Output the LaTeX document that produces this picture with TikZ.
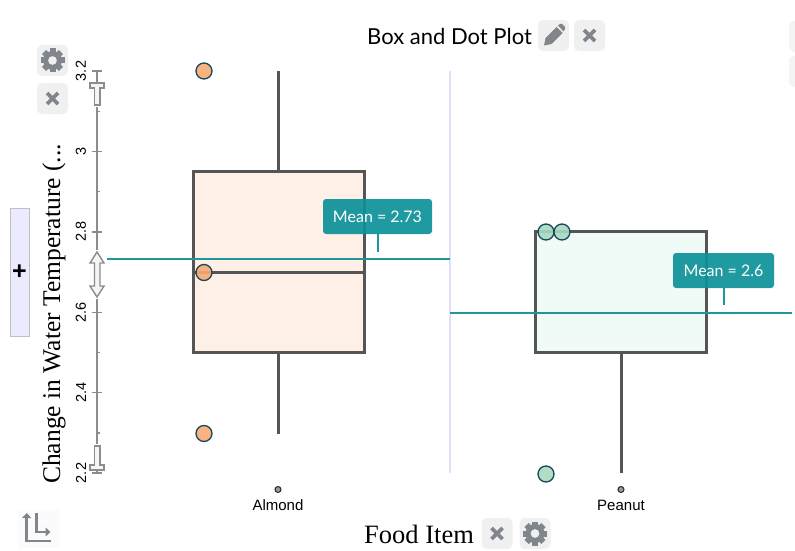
\documentclass[tikz,border=0pt]{standalone}
\usepackage{fontspec}
\setmainfont{Liberation Serif}
\newfontfamily\UiFont{Lato}
\newfontfamily\TickFont{Liberation Sans}
\usepackage{xcolor}
\definecolor{Col1}{RGB}{85,85,85}
\definecolor{Col2}{RGB}{30,150,156}
\definecolor{Col3}{RGB}{128,134,140}
\definecolor{Col4}{RGB}{240,240,240}
\definecolor{ColC}{RGB}{14,146,153}
\definecolor{ColA}{RGB}{254,240,230}
\definecolor{ColB}{RGB}{240,250,247}
\definecolor{DotA}{RGB}{249,170,115}
\definecolor{DotB}{RGB}{168,217,192}
\definecolor{DotEdge}{RGB}{22,72,92}
\usetikzlibrary{arrows.meta}
\tikzstyle{BoxNode}=[rectangle,draw=Col1,line width=3pt,inner sep=0pt]
\tikzstyle{Whisker}=[draw=Col1,line width=3pt]
\tikzstyle{Dot}=[circle,draw=DotEdge,line width=1.3pt,inner sep=0pt,minimum size=16pt,fill opacity=.9]
\tikzstyle{MeanLine}=[draw=Col2,line width=1.2pt]
\tikzstyle{Callout}=[rectangle,rounded corners=3pt,fill=ColC,fill opacity=.93,text opacity=1,
text=white,inner sep=0pt,font=\UiFont\fontsize{16}{16}\selectfont]
\tikzstyle{IconBtn}=[rectangle,rounded corners=5pt,fill=Col4,minimum size=31pt,inner sep=0pt]
\tikzstyle{Tick}=[draw=gray!90,line width=1.4pt]
\tikzstyle{Handle}=[draw=gray!90,fill=gray!8,line width=1.4pt]
\tikzstyle{CatDot}=[circle,draw=black!85,fill=gray!80,line width=1pt,inner sep=0pt,minimum size=6pt]
\tikzstyle{CatLabel}=[font=\TickFont\fontsize{15}{15}\selectfont]
\tikzstyle{TickLabel}=[rotate=90,font=\TickFont\fontsize{14.5}{15}\selectfont]
\newcommand{\IconCross}[1]{
    \draw[Col3,line width=3.8pt]
        ([shift={(-5.5,-5.5)}]#1.center)--([shift={(5.5,5.5)}]#1.center)
        ([shift={(-5.5,5.5)}]#1.center)--([shift={(5.5,-5.5)}]#1.center);
}
\newcommand{\IconGear}[1]{
    \foreach \a in {0,45,...,315}{
        \fill[Col3,rotate around={\a:(#1.center)}]
            ([shift={(-3,-12)}]#1.center) rectangle ([shift={(3,-7)}]#1.center);
    }
    \fill[Col3,even odd rule] (#1.center) circle[radius=9.5] (#1.center) circle[radius=4.5];
}
\begin{document}
\begin{tikzpicture}[x=1pt,y=-1pt]
    \useasboundingbox(0,0)rectangle(795,551);
    % plot
    \draw[draw=Col1!30!blue!14,line width=1.2pt](450,71)--(450,473);
    \node[BoxNode,fill=ColA,minimum width=171pt,minimum height=181pt](boxA)at(278.5,261.5){};
    \node[BoxNode,fill=ColB,minimum width=170.5pt,minimum height=120.5pt](boxB)at(621,291.75){};
    \coordinate(topA)at(278.5,71);
    \coordinate(lowA)at(278.5,433.5);
    \coordinate(lowB)at(621,473);
    \coordinate(medL)at(193,272);
    \coordinate(medR)at(364,272);
    \draw[Whisker](topA)--(boxA.north);
    \draw[Whisker](boxA.south)--(lowA);
    \draw[Whisker](medL)--(medR);
    \draw[Whisker](boxB.south)--(lowB);
    \node[Dot,fill=DotA](dotA1)at(204,71){};
    \node[Dot,fill=DotA](dotA2)at(204,272.5){};
    \node[Dot,fill=DotA](dotA3)at(204,433.5){};
    \node[Dot,fill=DotB](dotB1)at(546,232){};
    \node[Dot,fill=DotB](dotB2)at(562,232){};
    \node[Dot,fill=DotB](dotB3)at(546,474){};
    % means
    \coordinate(meanAL)at(107,259);
    \coordinate(meanAR)at(450,259);
    \coordinate(meanBL)at(450,313);
    \coordinate(meanBR)at(792,313);
    \draw[MeanLine](meanAL)--(meanAR);
    \draw[MeanLine](meanBL)--(meanBR);
    \node[Callout,minimum width=109pt,minimum height=35pt](calloutA)at(377.5,216.5){Mean = 2.73};
    \node[Callout,minimum width=101pt,minimum height=35pt](calloutB)at(723.5,270.5){Mean = 2.6};
    \coordinate(stemA)at(377.5,252);
    \coordinate(stemB)at(723.5,305);
    \draw[MeanLine,line width=2pt](calloutA.south)--(stemA);
    \draw[MeanLine,line width=2pt](calloutB.south)--(stemB);
    % vertical axis
    \coordinate(axisT)at(97,71);
    \coordinate(axisB)at(97,473);
    \draw[Tick](axisT)--(axisB);
    \foreach \y in {71,151.4,231.8,312.2,392.6,473}{
        \draw[Tick](92,\y)--(102,\y);
    }
    \foreach \y in {111.2,191.6,272,352.4,432.8}{
        \draw[Tick](97,\y)--(100,\y);
    }
    \node[TickLabel](t32)at(81,71){3.2};
    \node[TickLabel](t30)at(81,151.4){3};
    \node[TickLabel](t28)at(81,231.8){2.8};
    \node[TickLabel](t26)at(81,312.2){2.6};
    \node[TickLabel](t24)at(81,392.6){2.4};
    \node[TickLabel](t22)at(81,473){2.2};
    % handles
    \fill[white](87,78)rectangle(107,107);
    \fill[white](87,444)rectangle(107,472);
    \fill[white](87,250)rectangle(107,299);
    \draw[Handle](94.5,88)--(94.5,105)--(100,105)--(100,88)--(104,88)--(104,83)--(90,83)--(90,88)--cycle;
    \draw[Handle](94.5,465)--(94.5,446)--(100,446)--(100,465)--(104,465)--(104,470)--(90,470)--(90,465)--cycle;
    \draw[Handle](97,252)--(104,263)--(100,263)--(100,286)--(104,286)--(97,297)--(90,286)--(94.5,286)--(94.5,263)--(90,263)--cycle;
    \draw[Tick](97,470)--(97,473);
    \draw[Tick](97,71)--(97,83);
    % titles
    \node[font=\UiFont\fontsize{22}{22}\selectfont,anchor=west,inner sep=0pt](title)at(367,36){Box and Dot Plot};
    \node[font=\fontsize{25.5}{26}\selectfont,anchor=west,rotate=90,inner sep=0pt](ylabel)at(54,484){Change in Water Temperature (...};
    \node[font=\fontsize{26.5}{27}\selectfont,anchor=west,inner sep=0pt](xlabel)at(364,534){Food Item};
    % categories
    \node[CatDot](catA)at(278,489.5){};
    \node[CatDot](catB)at(621,489.5){};
    \node[CatLabel](labA)at(278,505.5){Almond};
    \node[CatLabel](labB)at(621,505.5){Peanut};
    % buttons
    \node[IconBtn](btnGearY)at(52.5,60.5){};
    \node[IconBtn](btnCrossY)at(52.5,98.5){};
    \node[IconBtn](btnPen)at(553.5,35.5){};
    \node[IconBtn](btnCrossT)at(589.5,35.5){};
    \node[IconBtn](btnCrossX)at(497,533.5){};
    \node[IconBtn](btnGearX)at(535,533.5){};
    \node[IconBtn,fill=Col4!70](btnEdgeA)at(804.5,36.5){};
    \node[IconBtn,fill=Col4!70](btnEdgeB)at(804.5,71.5){};
    \IconGear{btnGearY}
    \IconGear{btnGearX}
    \IconCross{btnCrossY}
    \IconCross{btnCrossT}
    \IconCross{btnCrossX}
    \fill[Col3](544,45.5)--(545.5,38)--(556.5,27)--(562.5,33)--(551.5,44)--cycle;
    \fill[Col3](558,25.5)--(560,24)--(562,24)--(565,27)--(565,29)--(563.5,31.5)--cycle;
    % add button
    \node[draw=gray!50,fill=blue!8,minimum width=19pt,minimum height=128pt,inner sep=0pt,
        font=\TickFont\bfseries\fontsize{25}{25}\selectfont](btnAdd)at(19.5,272){+};
    % swap axes
    \node[fill=gray!3,minimum width=42pt,minimum height=38pt,inner sep=0pt](btnSwap)at(39,529){};
    \coordinate(swapA)at(26.7,513);
    \coordinate(swapO)at(26.7,541);
    \coordinate(swapB)at(51,541);
    \coordinate(swapC)at(36.5,513);
    \coordinate(swapD)at(36.5,532);
    \coordinate(swapE)at(50.5,532);
    \draw[Col3,line width=2.6pt,{Triangle[length=5pt,width=9pt]}-](swapA)--(swapO)--(swapB);
    \draw[Col3,line width=2.6pt,-{Triangle[length=5pt,width=9pt]}](swapC)--(swapD)--(swapE);
\end{tikzpicture}
\end{document}
